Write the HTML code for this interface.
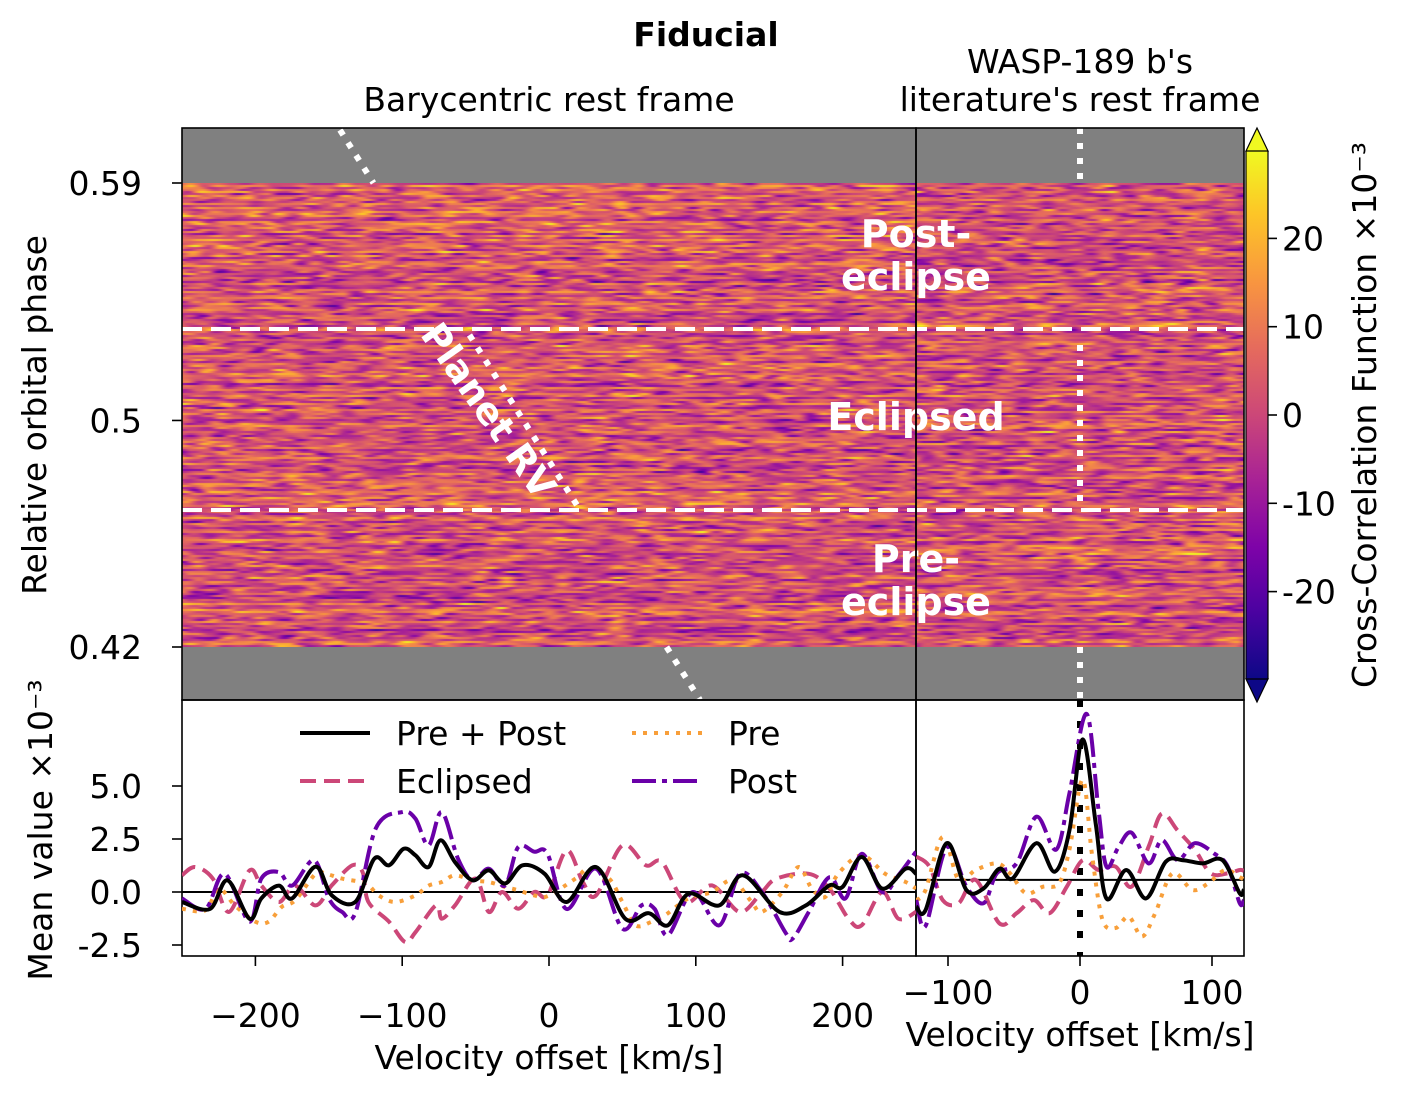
<!DOCTYPE html>
<html><head><meta charset="utf-8">
<style>
html,body{margin:0;padding:0;background:#fff;}
body{width:1406px;height:1097px;overflow:hidden;font-family:"DejaVu Sans","Liberation Sans",sans-serif;}
#wrap{position:relative;width:1406px;height:1097px;}
canvas{position:absolute;}
svg{position:absolute;left:0;top:0;}
</style></head>
<body>
<div id="wrap">
<canvas id="hmL" width="734" height="464" style="left:182px;top:183px;width:734px;height:464px"></canvas>
<canvas id="hmR" width="328" height="464" style="left:916px;top:183px;width:328px;height:464px"></canvas>
<svg id="svg" width="1406" height="1097" xmlns="http://www.w3.org/2000/svg">
<defs>
<linearGradient id="plasma" x1="0" y1="1" x2="0" y2="0">
<stop offset="0" stop-color="#0d0887"/><stop offset="0.13" stop-color="#4c02a1"/><stop offset="0.25" stop-color="#7e03a8"/><stop offset="0.38" stop-color="#a92395"/><stop offset="0.5" stop-color="#cc4778"/><stop offset="0.63" stop-color="#e66c5c"/><stop offset="0.75" stop-color="#f89540"/><stop offset="0.88" stop-color="#fdc527"/><stop offset="1" stop-color="#f0f921"/>
</linearGradient>
</defs>
</svg>
</div>
<script>
// ---- data ----
const vL_pp=[-250,-231,-219,-204,-196,-184,-175,-159,-148,-132,-119,-109,-99,-91,-82,-74,-64,-52,-41,-30,-18,-3,12,32,52,68,81,95,116,132,157,175,191,200,213,227,243,250];
const yL_pp=[-0.47,-0.8,0.55,-1.26,-0.3,0.3,-0.3,1.2,-0.15,-0.47,1.57,1.26,2.04,1.73,1.18,2.44,1.41,0.55,1.02,0.4,1.26,0.86,-0.47,1.18,-1.26,-1.0,-1.57,-0.08,-0.63,0.79,-0.94,-0.63,0.31,0.24,1.65,0.16,1.1,0.86];
const vL_post=[-250,-234,-221,-204,-196,-184,-175,-160,-150,-141,-132,-118,-100,-91,-82,-73,-62,-52,-41,-30,-21,-10,-1,12,32,50,63,72,81,98,116,130,145,161,166,177,191,202,213,227,238,250];
const yL_post=[-0.3,-0.8,0.86,-1.4,0.63,0.94,0.3,1.5,-0.3,-0.94,-1.0,3.0,3.77,3.46,2.2,3.77,1.57,0.55,1.1,0.3,2.12,1.9,1.8,-0.8,1.1,-1.73,-0.63,-0.8,-2.04,0,-1.57,0.86,0,-1.9,-2.2,-0.94,0.7,-0.3,1.8,0,0.79,1.9];
const vL_pre=[-250,-234,-225,-214,-200,-191,-182,-173,-159,-152,-141,-125,-116,-105,-91,-82,-73,-64,-52,-41,-30,-21,-10,-1,18,27,41,50,59,70,79,95,111,125,138,145,159,170,179,188,197,213,229,243,250];
const yL_pre=[-0.79,-0.86,0.16,-0.63,-1.4,-1.4,-0.7,-0.4,0.86,0.86,0.63,0.4,-0.16,-0.47,-0.16,0.3,0.47,0.79,0.55,0.47,0.24,0.08,-0.16,-0.2,0.63,1.1,0.63,-0.47,-1.57,-1.4,-1.1,-0.3,0,0.55,-0.47,-0.94,0,1.18,0.16,-0.24,0.86,1.73,0.86,0.47,0.16];
const vL_ecl=[-250,-241,-229,-218,-204,-196,-184,-173,-159,-148,-134,-127,-123,-109,-98,-91,-77,-73,-64,-50,-41,-32,-21,-10,-1,12,23,32,50,66,77,93,111,130,145,155,177,191,204,213,227,238,250];
const yL_ecl=[0.79,1.18,0.63,-0.94,1.02,0.3,-0.47,0.3,-0.63,0.31,1.26,0.94,-0.47,-1.4,-2.36,-1.9,-0.63,-1.26,-0.63,0.63,-0.94,0,-0.79,0,-0.16,1.96,0.47,-0.16,2.2,1.26,1.41,-0.47,0.31,-0.94,0,0.63,0.86,0.16,-1.26,-1.57,0,-1.26,-0.94];
const vR_pp=[-124,-117,-101,-86,-73,-61,-51,-33,-19,-8,2,12,20,35,50,65,78,93,108,121,124];
const yR_pp=[-0.69,-0.85,2.3,0.09,0.17,1.1,0.64,2.3,0.96,2.9,7.2,3.2,-0.3,1.04,-0.3,1.43,1.5,1.35,1.5,-0.06,0.1];
const vR_post=[-124,-117,-101,-86,-73,-63,-48,-33,-18,-8,5,14,20,29,39,52,62,74,87,102,112,121,124];
const yR_post=[-0.38,-1.6,2.1,0.25,-0.53,0.88,1.35,3.55,2.0,4.65,8.4,3.87,1.2,2.1,2.8,1.35,2.45,1.5,2.3,1.8,1.2,-0.53,-0.4];
const vR_pre=[-124,-117,-104,-92,-79,-63,-53,-41,-28,-16,-8,2,9,17,27,37,47,57,70,85,97,110,121,124];
const yR_pre=[-0.38,0.1,2.6,0.57,1.04,1.35,0.88,-0.06,0.25,0.4,2.0,5.3,1.8,-1.3,-1.7,-1.16,-2.1,-1.0,0.88,0.1,0.4,1.04,0.7,0.6];
const vR_ecl=[-124,-114,-104,-92,-79,-61,-48,-35,-23,-10,2,14,27,39,52,62,74,87,99,112,121,124];
const yR_ecl=[1.67,1.2,-0.38,-0.53,0.57,-1.48,-1.0,-0.38,-1.0,0.25,1.5,1.04,1.2,0.25,2.14,3.7,2.9,2.0,0.88,0.88,1.04,1.0];
const ticksXL=[-200,-100,0,100,200];
const ticksXR=[-100,0,100];
const ticksY=[-2.5,0.0,2.5,5.0];
const ticksCB=[-20,-10,0,10,20];
const phaseTicks=[0.42,0.503,0.59];
const phaseLabels=['0.42','0.5','0.59'];

// ---- scales ----
const xL=v=>549+v*1.468;
const xR=v=>1080+v*1.32;
const yB=v=>892-v*21.2;
const yP=p=>647-(p-0.42)*(464/0.17);
const yC=v=>415-v*8.83;

const FONT='DejaVu Sans, Liberation Sans, sans-serif';
const FS=33;
const svg=document.getElementById('svg');
const NS='http://www.w3.org/2000/svg';
function mk(tag,attrs,parent){const e=document.createElementNS(NS,tag);for(const k in attrs)e.setAttribute(k,attrs[k]);(parent||svg).appendChild(e);return e;}
function txt(s,x,y,size,anchor,extra){const t=mk('text',Object.assign({x:x,y:y,'font-size':size,'text-anchor':anchor||'middle','font-family':FONT,fill:'#000'},extra||{}));t.textContent=s;return t;}

// ---- heatmap noise (texture) ----
const stops=[[13,8,135],[76,2,161],[126,3,168],[169,35,149],[204,71,120],[230,108,92],[248,149,64],[253,197,39],[240,249,33]];
function cmap(t){t=Math.max(0,Math.min(1,t));const f=t*8;const i=Math.min(7,Math.floor(f));const r=f-i;const a=stops[i],b=stops[i+1];return [a[0]+(b[0]-a[0])*r,a[1]+(b[1]-a[1])*r,a[2]+(b[2]-a[2])*r];}
let seed=12345;function rnd(){seed=(seed*1103515245+12345)&0x7fffffff;return seed/0x7fffffff;}
function fill(id,w,h){const c=document.getElementById(id).getContext('2d');const img=c.createImageData(w,h);const L=14;
 for(let y=0;y<h;y+=2){const n=Math.ceil(w/L)+3;const k=[];for(let i=0;i<n;i++)k.push((rnd()+rnd()+rnd()-1.5)*1.6);
  const rowOff=(rnd()-0.5)*0.22;const ph=rnd()*L;
  for(let x=0;x<w;x++){const f=(x+ph)/L;const i=Math.floor(f);const r=f-i;const s=r*r*(3-2*r);let v=k[i]*(1-s)+k[i+1]*s;
   const t=0.55+rowOff+v*0.17;const col=cmap(t);
   for(let dy=0;dy<2&&y+dy<h;dy++){const p=((y+dy)*w+x)*4;img.data[p]=col[0];img.data[p+1]=col[1];img.data[p+2]=col[2];img.data[p+3]=255;}}}
 c.putImageData(img,0,0);}
fill('hmL',734,464);fill('hmR',328,464);

// ---- gray bands ----
let e;
e=mk('rect',{x:182,y:128,width:1062,height:55,fill:'#808080'});

e=mk('rect',{x:182,y:647,width:1062,height:53,fill:'#808080'});


// planet RV dotted line
function rvx(y){return 340+(y-130)*0.6316;}
[[130,183],[335,512],[647,700]].forEach(s=>{e=mk('line',{x1:rvx(s[0]),y1:s[0],x2:rvx(s[1]),y2:s[1],stroke:'#fff','stroke-width':6,'stroke-dasharray':'6 9'});
});
e=txt('Planet RV',478,418,37,'middle',{fill:'#fff','font-weight':'bold',transform:'rotate(55 478 418)'});

// right vertical dotted
[[128,183],[345,510],[647,700]].forEach(s=>{e=mk('line',{x1:1080,y1:s[0],x2:1080,y2:s[1],stroke:'#fff','stroke-width':6,'stroke-dasharray':'6 9'});
});
// dashed horizontal
[329,510].forEach(y=>{e=mk('line',{x1:182,y1:y,x2:1244,y2:y,stroke:'#fff','stroke-width':4,'stroke-dasharray':'20 9'});
});
// region labels
[['Post-',247],['eclipse',290],['Eclipsed',430],['Pre-',572],['eclipse',615]].forEach(a=>{e=txt(a[0],916,a[1],38,'middle',{fill:'#fff','font-weight':'bold'});
});

// frames
[[182,128,734,572],[916,128,328,572],[182,700,734,256],[916,700,328,256]].forEach(r=>{e=mk('rect',{x:r[0],y:r[1],width:r[2],height:r[3],fill:'none',stroke:'#000','stroke-width':1.6});
});

// phase ticks
phaseTicks.forEach((p,i)=>{const y=yP(p);mk('line',{x1:172,y1:y,x2:182,y2:y,stroke:'#000','stroke-width':1.6});
e=txt(phaseLabels[i],142,y+12,FS,'end');});
e=txt('Relative orbital phase',46,415,FS,'middle',{transform:'rotate(-90 46 415)'});


// titles
e=txt('Fiducial',706,46,33,'middle',{'font-weight':'bold'});
e=txt('Barycentric rest frame',549,111,FS);
e=txt("WASP-189 b's",1080,73,FS);
e=txt("literature's rest frame",1080,111,FS);

// colorbar
e=mk('rect',{x:1246,y:151,width:22,height:528,fill:'url(#plasma)'});
e=mk('polygon',{points:'1246,151 1257,128 1268,151',fill:'#f0f921',stroke:'#000','stroke-width':1.2});
e=mk('polygon',{points:'1246,679 1257,702 1268,679',fill:'#0d0887',stroke:'#000','stroke-width':1.2});
mk('polyline',{points:'1246,151 1246,679',stroke:'#000','stroke-width':1.2,fill:'none'});
mk('polyline',{points:'1268,151 1268,679',stroke:'#000','stroke-width':1.2,fill:'none'});
ticksCB.forEach(v=>{const y=yC(v);mk('line',{x1:1268,y1:y,x2:1277,y2:y,stroke:'#000','stroke-width':1.6});
e=txt(String(v),1282,y+12,FS,'start');});
e=txt('Cross-Correlation Function \u00d710\u207b\u00b3',1376,415,FS,'middle',{transform:'rotate(-90 1376 415)'});


// bottom panels
const clipL=mk('clipPath',{id:'cL'});mk('rect',{x:182,y:700,width:734,height:256},clipL);
const clipR=mk('clipPath',{id:'cR'});mk('rect',{x:916,y:700,width:328,height:256},clipR);
const gL=mk('g',{'clip-path':'url(#cL)'});const gR=mk('g',{'clip-path':'url(#cR)'});
mk('line',{x1:182,y1:yB(0),x2:916,y2:yB(0),stroke:'#000','stroke-width':2},gL);
mk('line',{x1:916,y1:yB(0.57),x2:1244,y2:yB(0.57),stroke:'#000','stroke-width':2},gR);
e=mk('line',{x1:1080,y1:700,x2:1080,y2:956,stroke:'#000','stroke-width':6,'stroke-dasharray':'7 14'},gR);

const styles={pp:{stroke:'#000',dash:''},ecl:{stroke:'#cc4778',dash:'16 8'},pre:{stroke:'#f89f3a',dash:'4 7'},post:{stroke:'#6a00a8',dash:'24 6 5 6'}};
function smooth(P){let d='M'+P[0][0].toFixed(1)+','+P[0][1].toFixed(1);
 for(let i=0;i<P.length-1;i++){const p0=P[Math.max(0,i-1)],p1=P[i],p2=P[i+1],p3=P[Math.min(P.length-1,i+2)];
  const c1=[p1[0]+(p2[0]-p0[0])/6,p1[1]+(p2[1]-p0[1])/6],c2=[p2[0]-(p3[0]-p1[0])/6,p2[1]-(p3[1]-p1[1])/6];
  d+=' C'+c1[0].toFixed(1)+','+c1[1].toFixed(1)+' '+c2[0].toFixed(1)+','+c2[1].toFixed(1)+' '+p2[0].toFixed(1)+','+p2[1].toFixed(1);}
 return d;}
function series(g,vs,ys,sx,st,name){const P=vs.map((v,i)=>[sx(v),yB(ys[i])]);
 const p=mk('path',{d:smooth(P),fill:'none',stroke:st.stroke,'stroke-width':4,'stroke-dasharray':st.dash,'stroke-linejoin':'round'},g);
 
 }
series(gL,vL_ecl,yL_ecl,xL,styles.ecl,'line-eclipsed-left');
series(gL,vL_pre,yL_pre,xL,styles.pre,'line-pre-left');
series(gL,vL_post,yL_post,xL,styles.post,'line-post-left');
series(gL,vL_pp,yL_pp,xL,styles.pp,'line-pre-post-left');
series(gR,vR_ecl,yR_ecl,xR,styles.ecl,'line-eclipsed-right');
series(gR,vR_pre,yR_pre,xR,styles.pre,'line-pre-right');
series(gR,vR_post,yR_post,xR,styles.post,'line-post-right');
series(gR,vR_pp,yR_pp,xR,styles.pp,'line-pre-post-right');

ticksY.forEach(v=>{const y=yB(v);mk('line',{x1:172,y1:y,x2:182,y2:y,stroke:'#000','stroke-width':1.6});
e=txt(v.toFixed(1),142,y+12,FS,'end');});
e=txt('Mean value \u00d710\u207b\u00b3',52,830,FS,'middle',{transform:'rotate(-90 52 830)'});

ticksXL.forEach(v=>{const x=xL(v);mk('line',{x1:x,y1:956,x2:x,y2:966,stroke:'#000','stroke-width':1.6});
e=txt(v<0?'\u2212'+(-v):String(v),x,1027,FS);});
ticksXR.forEach(v=>{const x=xR(v);mk('line',{x1:x,y1:956,x2:x,y2:966,stroke:'#000','stroke-width':1.6});
e=txt(v<0?'\u2212'+(-v):String(v),x,1004,FS);});
e=txt('Velocity offset [km/s]',549,1069,FS);
e=txt('Velocity offset [km/s]',1080,1046,FS);

// legend
const leg=[['Pre + Post',styles.pp,300,733],['Eclipsed',styles.ecl,300,781],['Pre',styles.pre,632,733],['Post',styles.post,632,781]];
leg.forEach(l=>{mk('line',{x1:l[2],y1:l[3],x2:l[2]+70,y2:l[3],stroke:l[1].stroke,'stroke-width':4,'stroke-dasharray':l[1].dash});
e=txt(l[0],l[2]+96,l[3]+12,FS,'start');});
</script>
</body></html>
